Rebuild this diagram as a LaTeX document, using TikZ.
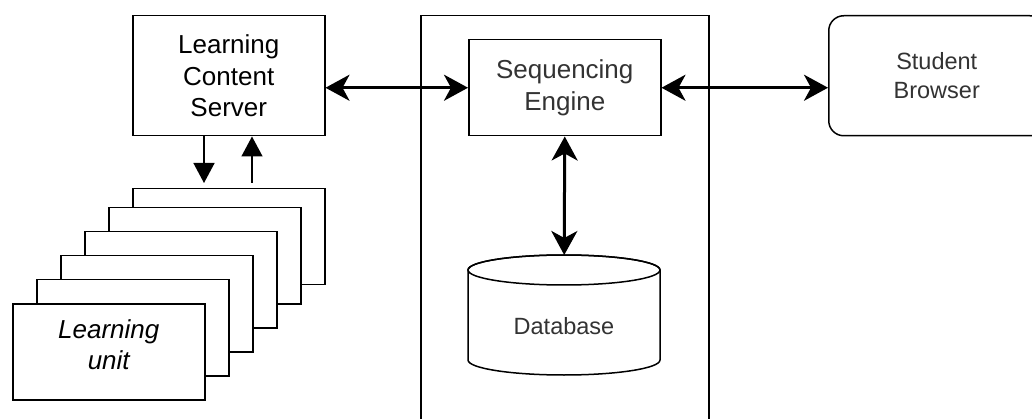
\documentclass[tikz,border=0pt]{standalone}
\usepackage{fontspec}
\setmainfont{Liberation Sans}
\usetikzlibrary{arrows.meta,calc}
\definecolor{txtgray}{HTML}{333333}
\begin{document}
\begin{tikzpicture}[x=1pt,y=-1pt,
  box/.style={draw=black,line width=1.5pt,fill=white,inner sep=0pt,align=center,anchor=north west},
  page/.style={box,minimum width=192pt,minimum height=96pt},
  bigfont/.style={font=\fontsize{26}{31.5}\selectfont},
  smallfont/.style={font=\fontsize{23.5}{29.3}\selectfont},
  dbl/.style={line width=3pt,{Stealth[length=24pt,width=26pt,inset=7pt]}-{Stealth[length=24pt,width=26pt,inset=7pt]}},
  sgl/.style={line width=1.5pt,-{Triangle[length=20pt,width=21pt]}}
]
\useasboundingbox (0,0) rectangle (1032,419);
\clip (0,0) rectangle (1032,419);

% engine container
\node[box,minimum width=288pt,minimum height=420pt] (eng) at (420,15) {};

% main boxes
\node[box,minimum width=192pt,minimum height=120pt,bigfont] (lcs) at (132,15) {Learning\\Content\\Server};
\node[box,minimum width=192pt,minimum height=96pt,bigfont,text=txtgray] (se) at (468,39) {Sequencing\\Engine};
\node[box,rounded corners=15pt,minimum width=216pt,minimum height=120pt,smallfont,text=txtgray] (sb) at (828,15) {Student\\Browser};

% stack of learning units
\node[page] (p1) at (132,188) {};
\node[page] (p2) at (108,207) {};
\node[page] (p3) at (84,231) {};
\node[page] (p4) at (60,255) {};
\node[page] (p5) at (36,279) {};
\node[page] (p6) at (12,303) {};
\node[bigfont,align=center,font=\fontsize{26}{31.5}\selectfont\itshape] (lu) at ($(p6.center)+(0,-7)$) {Learning\\unit};

% database cylinder
\node[inner sep=0pt,minimum width=192pt,minimum height=120pt,anchor=north west] (db) at (468,255) {};
\draw[line width=1.5pt,fill=white] (468,270) -- (468,360)
  arc[start angle=180,end angle=0,x radius=96,y radius=15] -- (660,270)
  arc[start angle=0,end angle=-180,x radius=96,y radius=15] -- cycle;
\draw[line width=1.5pt] (564,270) ellipse[x radius=96,y radius=15];
\node[smallfont,text=txtgray] (dbt) at (564,326.5) {Database};

% connectors
\coordinate (d1) at (204,183);
\coordinate (u1) at (252,183);
\draw[sgl] (lcs.south -| d1) -- (d1);
\draw[sgl] (u1) -- (lcs.south -| u1);
\draw[dbl] (se.west) -- (se.west -| lcs.east);
\draw[dbl] (se.east) -- (se.east -| sb.west);
\draw[dbl] (se.south) -- (db.north);
\end{tikzpicture}
\end{document}
